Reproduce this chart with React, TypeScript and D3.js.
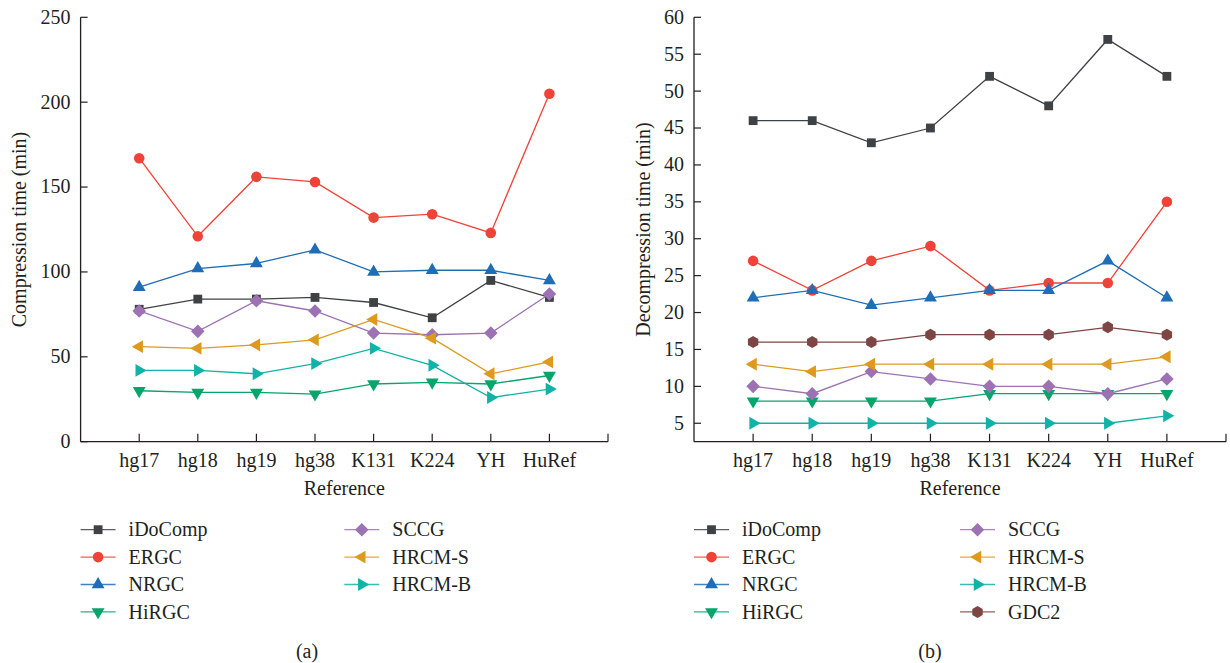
import React from "react";
import * as d3 from "d3";

const categories = ["hg17", "hg18", "hg19", "hg38", "K131", "K224", "YH", "HuRef"];

// Panel (a): compression time (min)
const compIDoComp = [78, 84, 84, 85, 82, 73, 95, 85];
const compERGC = [167, 121, 156, 153, 132, 134, 123, 205];
const compNRGC = [91, 102, 105, 113, 100, 101, 101, 95];
const compHiRGC = [30, 29, 29, 28, 34, 35, 34, 39];
const compSCCG = [77, 65, 83, 77, 64, 63, 64, 87];
const compHRCMS = [56, 55, 57, 60, 72, 61, 40, 47];
const compHRCMB = [42, 42, 40, 46, 55, 45, 26, 31];

// Panel (b): decompression time (min)
const decIDoComp = [46, 46, 43, 45, 52, 48, 57, 52];
const decERGC = [27, 23, 27, 29, 23, 24, 24, 35];
const decNRGC = [22, 23, 21, 22, 23, 23, 27, 22];
const decHiRGC = [8, 8, 8, 8, 9, 9, 9, 9];
const decSCCG = [10, 9, 12, 11, 10, 10, 9, 11];
const decHRCMS = [13, 12, 13, 13, 13, 13, 13, 14];
const decHRCMB = [5, 5, 5, 5, 5, 5, 5, 6];
const decGDC2 = [16, 16, 16, 17, 17, 17, 18, 17];

const compTicks = [0, 50, 100, 150, 200, 250];
const decTicks = [5, 10, 15, 20, 25, 30, 35, 40, 45, 50, 55, 60];

type Marker = "square" | "circle" | "up" | "down" | "diamond" | "left" | "right" | "hex";

interface Series {
  name: string;
  values: number[];
  color: string;
  marker: Marker;
}

const C = {
  iDoComp: "#3f4244",
  ERGC: "#ef4238",
  NRGC: "#1e6db6",
  HiRGC: "#05a56b",
  SCCG: "#9c72b4",
  HRCMS: "#dd9a1e",
  HRCMB: "#11b3a8",
  GDC2: "#7d4543",
};

const seriesA: Series[] = [
  { name: "iDoComp", values: compIDoComp, color: C.iDoComp, marker: "square" },
  { name: "ERGC", values: compERGC, color: C.ERGC, marker: "circle" },
  { name: "NRGC", values: compNRGC, color: C.NRGC, marker: "up" },
  { name: "HiRGC", values: compHiRGC, color: C.HiRGC, marker: "down" },
  { name: "SCCG", values: compSCCG, color: C.SCCG, marker: "diamond" },
  { name: "HRCM-S", values: compHRCMS, color: C.HRCMS, marker: "left" },
  { name: "HRCM-B", values: compHRCMB, color: C.HRCMB, marker: "right" },
];

const seriesB: Series[] = [
  { name: "iDoComp", values: decIDoComp, color: C.iDoComp, marker: "square" },
  { name: "ERGC", values: decERGC, color: C.ERGC, marker: "circle" },
  { name: "NRGC", values: decNRGC, color: C.NRGC, marker: "up" },
  { name: "HiRGC", values: decHiRGC, color: C.HiRGC, marker: "down" },
  { name: "SCCG", values: decSCCG, color: C.SCCG, marker: "diamond" },
  { name: "HRCM-S", values: decHRCMS, color: C.HRCMS, marker: "left" },
  { name: "HRCM-B", values: decHRCMB, color: C.HRCMB, marker: "right" },
  { name: "GDC2", values: decGDC2, color: C.GDC2, marker: "hex" },
];

const FONT = "Liberation Serif, Times New Roman, serif";
const INK = "#231f20";

function hexPath(r: number): string {
  const pts: [number, number][] = d3.range(6).map((i) => {
    const a = (Math.PI / 3) * i - Math.PI / 2;
    return [r * Math.cos(a), r * Math.sin(a)];
  });
  return "M" + pts.map((p) => p.join(",")).join("L") + "Z";
}

function MarkerShape({ type, color, x, y }: { type: Marker; color: string; x: number; y: number }) {
  let d = "";
  let rot = 0;
  switch (type) {
    case "square":
      d = d3.symbol(d3.symbolSquare, 78)() as string;
      break;
    case "circle":
      d = d3.symbol(d3.symbolCircle, 88)() as string;
      break;
    case "up":
      d = d3.symbol(d3.symbolTriangle, 72)() as string;
      break;
    case "down":
      d = d3.symbol(d3.symbolTriangle, 72)() as string;
      rot = 180;
      break;
    case "left":
      d = d3.symbol(d3.symbolTriangle, 72)() as string;
      rot = -90;
      break;
    case "right":
      d = d3.symbol(d3.symbolTriangle, 72)() as string;
      rot = 90;
      break;
    case "diamond":
      d = d3.symbol(d3.symbolSquare, 92)() as string;
      rot = 45;
      break;
    case "hex":
      d = hexPath(6);
      break;
  }
  return <path d={d} fill={color} transform={`translate(${x},${y}) rotate(${rot})`} />;
}

interface PanelProps {
  series: Series[];
  x0: number;
  x1: number;
  yDomain: [number, number];
  ticks: number[];
  yTitle: string;
  yTitleX: number;
  caption: string;
  captionX: number;
}

const Y_TOP = 17.3;
const Y_BOT = 441.7;

function Panel({ series, x0, x1, yDomain, ticks, yTitle, yTitleX, caption, captionX }: PanelProps) {
  const x = d3.scalePoint<string>().domain(categories).range([x0, x1]).padding(1);
  const y = d3.scaleLinear().domain(yDomain).range([Y_BOT, Y_TOP]);
  const line = d3
    .line<number>()
    .x((_, i) => x(categories[i]) as number)
    .y((v) => y(v));

  const legendRows = 4;
  const rowGap = 27.4;
  const legendTop = 529.7;
  const col2 = (x1 - x0) * 0.5;

  return (
    <g>
      {/* axes */}
      <line x1={x0} x2={x0} y1={Y_TOP} y2={Y_BOT} stroke={INK} strokeWidth={1.3} />
      <line x1={x0} x2={x1} y1={Y_BOT} y2={Y_BOT} stroke={INK} strokeWidth={1.3} />
      {ticks.map((t) => (
        <g key={t}>
          <line x1={x0} x2={x0 + 7} y1={y(t)} y2={y(t)} stroke={INK} strokeWidth={1.2} />
          <text
            x={x0 - 10}
            y={y(t)}
            dy="0.32em"
            textAnchor="end"
            fontFamily={FONT}
            fontSize={20}
            fill={INK}
          >
            {t}
          </text>
        </g>
      ))}
      {categories.map((c) => (
        <g key={c}>
          <line x1={x(c)} x2={x(c)} y1={Y_BOT} y2={Y_BOT - 8} stroke={INK} strokeWidth={1.2} />
          <text
            x={x(c)}
            y={Y_BOT + 25}
            textAnchor="middle"
            fontFamily={FONT}
            fontSize={20}
            fill={INK}
          >
            {c}
          </text>
        </g>
      ))}
      <line x1={x1} x2={x1} y1={Y_BOT} y2={Y_BOT - 8} stroke={INK} strokeWidth={1.2} />
      <text
        x={(x0 + x1) / 2}
        y={Y_BOT + 53}
        textAnchor="middle"
        fontFamily={FONT}
        fontSize={20}
        fill={INK}
      >
        Reference
      </text>
      <text
        transform={`translate(${yTitleX},${(Y_TOP + Y_BOT) / 2}) rotate(-90)`}
        textAnchor="middle"
        dy="0.32em"
        fontFamily={FONT}
        fontSize={20}
        fill={INK}
      >
        {yTitle}
      </text>

      {/* series */}
      {series.map((s) => (
        <g key={s.name}>
          <path d={line(s.values) as string} fill="none" stroke={s.color} strokeWidth={1.3} />
          {s.values.map((v, i) => (
            <MarkerShape key={i} type={s.marker} color={s.color} x={x(categories[i]) as number} y={y(v)} />
          ))}
        </g>
      ))}

      {/* legend */}
      {series.map((s, i) => {
        const col = Math.floor(i / legendRows);
        const row = i % legendRows;
        const lx = x0 + col * col2;
        const ly = legendTop + row * rowGap;
        return (
          <g key={"lg" + s.name}>
            <line x1={lx} x2={lx + 35} y1={ly} y2={ly} stroke={s.color} strokeWidth={1.3} strokeOpacity={0.85} />
            <MarkerShape type={s.marker} color={s.color} x={lx + 17.5} y={ly} />
            <text x={lx + 48} y={ly} dy="0.33em" fontFamily={FONT} fontSize={20} fill={INK}>
              {s.name}
            </text>
          </g>
        );
      })}

      <text x={captionX} y={651} dy="0.33em" textAnchor="middle" fontFamily={FONT} fontSize={20} fill={INK}>
        {caption}
      </text>
    </g>
  );
}

export default function App() {
  return (
    <svg
      width={1230}
      height={663}
      viewBox="0 0 1230 663"
      style={{ position: "absolute", left: 0, top: 0, background: "#fff" }}
    >
      <rect width={1230} height={663} fill="#fff" />
      <Panel
        series={seriesA}
        x0={80.6}
        x1={608}
        yDomain={[0, 250]}
        ticks={compTicks}
        yTitle="Compression time (min)"
        yTitleX={19.5}
        caption="(a)"
        captionX={307}
      />
      <Panel
        series={seriesB}
        x0={694}
        x1={1226}
        yDomain={[2.5, 60]}
        ticks={decTicks}
        yTitle="Decompression time (min)"
        yTitleX={644}
        caption="(b)"
        captionX={930}
      />
    </svg>
  );
}
